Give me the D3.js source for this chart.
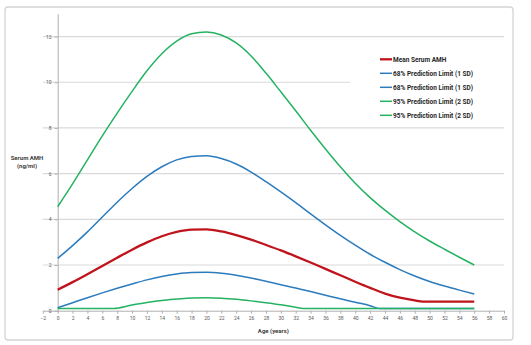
<!DOCTYPE html>
<html><head><meta charset="utf-8">
<script src="https://cdn.jsdelivr.net/npm/d3@7"></script>
<style>body{margin:0;background:#fff;}svg{display:block;}</style>
</head><body><div id="chart"></div>
<script>
const xTicks = d3.range(-2, 61, 2);
const yTicks = [0, 2, 4, 6, 8, 10, 12];
const seriesNames = ["Mean Serum AMH", "68% Prediction Limit (1 SD)", "68% Prediction Limit (1 SD)", "95% Prediction Limit (2 SD)", "95% Prediction Limit (2 SD)"];
const evenAges = d3.range(0, 57, 2);
const meanAges = [0,2,4,6,8,10,12,14,16,18,20,22,24,26,28,30,32,34,36,38,40,42,44,46,48,49.1,52,56];
const meanValues = [0.92,1.25,1.6,1.96,2.32,2.67,2.99,3.26,3.45,3.55,3.56,3.47,3.31,3.11,2.88,2.64,2.38,2.11,1.83,1.55,1.27,1.0,0.75,0.57,0.45,0.40,0.40,0.40];
const upper1Values = [2.29,2.85,3.45,4.1,4.75,5.35,5.88,6.3,6.6,6.75,6.78,6.66,6.42,6.07,5.65,5.2,4.73,4.24,3.76,3.3,2.87,2.47,2.12,1.8,1.52,1.28,1.08,0.9,0.73];
const lower1Ages = [0,2,4,6,8,10,12,14,16,18,20,22,24,26,28,30,32,34,36,38,40,42,43.3,56];
const lower1Values = [0.13,0.35,0.57,0.78,0.98,1.17,1.35,1.5,1.61,1.67,1.68,1.64,1.55,1.43,1.29,1.14,0.99,0.84,0.68,0.52,0.37,0.22,0.1,0.1];
const upper2Values = [4.55,5.55,6.6,7.65,8.65,9.6,10.5,11.25,11.8,12.12,12.2,12.07,11.72,11.15,10.4,9.58,8.75,7.9,7.08,6.3,5.58,4.95,4.4,3.9,3.45,3.05,2.69,2.34,2.0];
const lower2Ages = [0,7.5,10,12,14,16,18,20,22,24,26,28,30,32,33,56];
const lower2Values = [0.1,0.1,0.25,0.36,0.45,0.51,0.56,0.57,0.55,0.5,0.43,0.35,0.26,0.15,0.1,0.1];

const RED = "#c0141c", BLUE = "#2b7bbd", GREEN = "#25b262";
const series = [
  {name: seriesNames[0], ages: meanAges, values: meanValues, color: RED, w: 2.3},
  {name: seriesNames[1], ages: evenAges, values: upper1Values, color: BLUE, w: 1.5},
  {name: seriesNames[2], ages: lower1Ages, values: lower1Values, color: BLUE, w: 1.5},
  {name: seriesNames[3], ages: evenAges, values: upper2Values, color: GREEN, w: 1.5},
  {name: seriesNames[4], ages: lower2Ages, values: lower2Values, color: GREEN, w: 1.5}
];

const W = 531, H = 345;
const svg = d3.select("#chart").append("svg").attr("width", W).attr("height", H);
svg.append("rect").attr("x", 5).attr("y", 7).attr("width", 508).attr("height", 333)
  .attr("rx", 3).attr("fill", "#fff").attr("stroke", "#d4d4d4").attr("stroke-width", 1.3);

const x = d3.scaleLinear().domain([-2, 60]).range([42.8, 504]);
const y = d3.scaleLinear().domain([0, 13]).range([310.7, 13.7]);

// gridlines
svg.append("g").selectAll("line").data(yTicks.filter(d => d > 0)).join("line")
  .attr("x1", x(-2)).attr("x2", x(60)).attr("y1", d => y(d)).attr("y2", d => y(d))
  .attr("stroke", "#d9d9d9").attr("stroke-width", 1.2);

// x axis
const xAxis = svg.append("g").attr("transform", `translate(0,${y(0)})`)
  .call(d3.axisBottom(x).tickValues(xTicks).tickSize(3).tickPadding(3).tickSizeOuter(0));
xAxis.select(".domain").attr("stroke", "#b0b0b0");
xAxis.selectAll(".tick line").attr("stroke", "#b0b0b0");
xAxis.selectAll("text").attr("font-family", "Roboto, sans-serif").attr("font-size", 5).attr("fill", "#595959");

// y axis
const yAxis = svg.append("g").attr("transform", `translate(${x(0)},0)`)
  .call(d3.axisLeft(y).tickValues(yTicks).tickSize(3).tickPadding(3).tickSizeOuter(0));
yAxis.select(".domain").attr("stroke", "#b0b0b0");
yAxis.selectAll(".tick line").attr("stroke", "#b0b0b0");
yAxis.selectAll("text").attr("font-family", "Roboto, sans-serif").attr("font-size", 5).attr("fill", "#595959");

// axis titles
svg.append("text").attr("x", (x(-2) + x(60)) / 2).attr("y", 333).attr("text-anchor", "middle")
  .attr("font-family", "Roboto, sans-serif").attr("font-size", 6).attr("font-weight", "bold").attr("fill", "#404040")
  .text("Age (years)");
const yt = svg.append("text").attr("text-anchor", "middle")
  .attr("font-family", "Roboto, sans-serif").attr("font-size", 6).attr("font-weight", "bold").attr("fill", "#404040");
yt.append("tspan").attr("x", 27).attr("y", 160).text("Serum AMH");
yt.append("tspan").attr("x", 27).attr("y", 168).text("(ng/ml)");

// legend background
svg.append("rect").attr("x", 350).attr("y", 46).attr("width", 156).attr("height", 78).attr("fill", "#fff");

// lines
const line = d3.line().x(d => x(d[0])).y(d => y(d[1])).curve(d3.curveMonotoneX);
svg.append("g").selectAll("path").data(series).join("path")
  .attr("d", s => line(s.ages.map((a, i) => [a, s.values[i]])))
  .attr("fill", "none").attr("stroke", s => s.color).attr("stroke-width", s => s.w)
  .attr("stroke-linejoin", "round");

// legend
const lg = svg.append("g").selectAll("g").data(series).join("g")
  .attr("transform", (s, i) => `translate(380,${59.3 + i * 14})`);
lg.append("line").attr("x1", 0).attr("x2", 12).attr("stroke", s => s.color).attr("stroke-width", s => s.w);
lg.append("text").attr("x", 13).attr("dy", "0.35em")
  .attr("font-family", "Roboto, sans-serif").attr("font-size", 6.5).attr("font-weight", "bold").attr("fill", "#262626")
  .text(s => s.name);
</script></body></html>
